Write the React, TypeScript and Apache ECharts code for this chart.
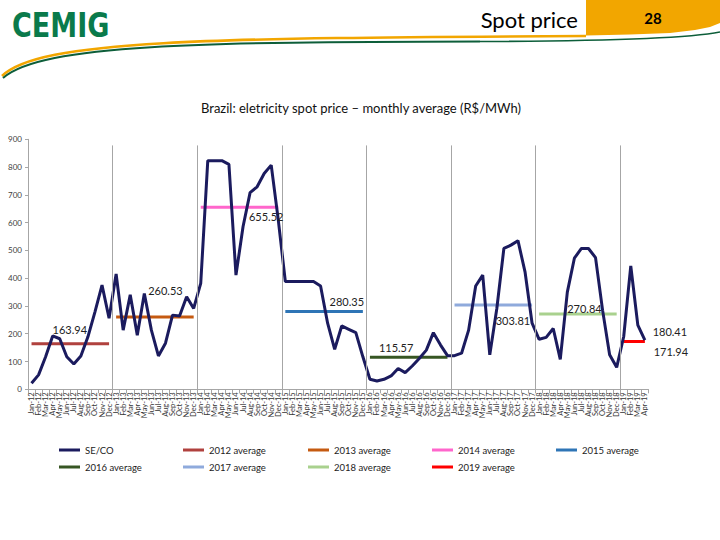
import React, { useEffect, useRef } from 'react';
import * as echarts from 'echarts';

const monthNames = ['Jan', 'Feb', 'Mar', 'Apr', 'May', 'Jun', 'Jul', 'Aug', 'Sep', 'Oct', 'Nov', 'Dec'];
const yearSuffixes = ['12', '13', '14', '15', '16', '17', '18', '19'];
const monthsPerYear = [12, 12, 12, 12, 12, 12, 12, 4];

const spot2012 = [22, 52, 117, 192, 182, 117, 91, 120, 189, 279, 375, 256];
const spot2013 = [415, 213, 340, 195, 345, 213, 120, 166, 267, 264, 333, 291];
const spot2014 = [381, 823, 823, 823, 810, 411, 585, 708, 729, 777, 807, 610];
const spot2015 = [388, 388, 388, 388, 388, 372, 238, 144, 228, 216, 204, 117];
const spot2016 = [36, 30, 36, 48, 75, 60, 84, 111, 141, 204, 160, 121];
const spot2017 = [121, 130, 213, 372, 411, 124, 291, 507, 519, 535, 423, 238];
const spot2018 = [180, 187, 219, 108, 350, 472, 507, 507, 474, 285, 124, 79];
const spot2019 = [190, 444, 231, 177];

const averageNames = ['2012 average', '2013 average', '2014 average', '2015 average', '2016 average', '2017 average', '2018 average', '2019 average'];
const averageValues = [163.94, 260.53, 655.52, 280.35, 115.57, 303.81, 270.84, 171.94];
const averageLabels = ['163.94', '260.53', '655.52', '280.35', '115.57', '303.81', '270.84', '171.94'];
const extraLabel = '180.41';

const averageColors = ['#b0413e', '#c55a11', '#ff66cc', '#2e75b6', '#375623', '#8faadc', '#a9d18e', '#ff0000'];
// label anchors: [category index, dx, dy] (style/position only)
const averageLabelAnchors: [number, number, number][] = [
  [5, 3, -14], [19, 0, -26], [33, 2, 9], [45, -2, -10], [52, -2, -10], [68, 2, 16], [78, 3, -6], [87, 26, 10],
];
const extraLabelAnchor: [number, number, number] = [87, 25, -10];

const categories: string[] = [];
yearSuffixes.forEach((y, yi) => {
  for (let m = 0; m < monthsPerYear[yi]; m++) categories.push(`${monthNames[m]}-${y}`);
});
const spotValues = [...spot2012, ...spot2013, ...spot2014, ...spot2015, ...spot2016, ...spot2017, ...spot2018, ...spot2019];

const FONT = 'Lato, "Open Sans", sans-serif';
const legendCols = [59, 183, 308, 432, 556];
const legendRows = [445, 462];

export default function App() {
  const ref = useRef<HTMLDivElement>(null);
  useEffect(() => {
    if (!ref.current) return;
    const chart = echarts.init(ref.current, undefined, { renderer: 'svg' });

    const yearStart: number[] = [];
    let acc = 0;
    monthsPerYear.forEach((n) => { yearStart.push(acc); acc += n; });
    const total = acc;

    const avgSeries = averageNames.map((name, i) => {
      const data = categories.map((_, ci) =>
        ci >= yearStart[i] && ci < yearStart[i] + monthsPerYear[i] ? averageValues[i] : null
      );
      return {
        name,
        type: 'line',
        data,
        showSymbol: false,
        symbol: 'none',
        lineStyle: { color: averageColors[i], width: 3 },
        itemStyle: { color: averageColors[i] },
        z: 3,
      };
    });

    const legendNames = ['SE/CO', ...averageNames];
    const legends = legendNames.map((name, i) => ({
      left: legendCols[i % 5],
      top: legendRows[Math.floor(i / 5)],
      data: [name],
      itemWidth: 21,
      itemHeight: 3,
      icon: 'rect',
      padding: 0,
      textStyle: { fontSize: 9.5, color: '#222', fontFamily: FONT },
    }));

    const separatorData = yearStart.slice(1).map((s) => [
      { coord: [s, 878] },
      { coord: [s, 0] },
    ]);

    const option: any = {
      animation: false,
      title: {
        text: 'Brazil: eletricity spot price \u2013 monthly average (R$/MWh)',
        left: 356,
        top: 96,
        textAlign: 'center',
        textStyle: { fontSize: 13, fontWeight: 'normal', color: '#111', fontFamily: FONT },
      },
      grid: { left: 28, right: 71.6, top: 139.3, bottom: 150.7, containLabel: false },
      legend: legends,
      xAxis: [
        {
          type: 'category',
          data: categories,
          boundaryGap: true,
          axisLine: { lineStyle: { color: '#a6a6a6' } },
          axisTick: { show: true, length: 4, lineStyle: { color: '#a6a6a6' } },
          axisLabel: { interval: 0, rotate: 90, fontSize: 7.5, margin: 3, color: '#333', fontFamily: FONT },
          splitLine: { show: false },
        },
        { type: 'value', min: 0, max: total, show: false },
      ],
      yAxis: {
        type: 'value',
        min: 0,
        max: 900,
        interval: 100,
        axisLine: { show: true, lineStyle: { color: '#a6a6a6' } },
        axisTick: { show: true, length: 3, lineStyle: { color: '#a6a6a6' } },
        axisLabel: { fontSize: 8, color: '#404040', margin: 6, fontFamily: FONT },
        splitLine: { show: false },
      },
      series: [
        {
          name: 'separators',
          type: 'line',
          xAxisIndex: 1,
          data: [],
          silent: true,
          markLine: {
            silent: true,
            symbol: 'none',
            label: { show: false },
            lineStyle: { color: '#a6a6a6', width: 1, type: 'solid' },
            data: separatorData,
          },
          z: 1,
        },
        {
          name: 'SE/CO',
          type: 'line',
          data: spotValues,
          showSymbol: false,
          symbol: 'none',
          lineStyle: { color: '#1b1b5e', width: 3 },
          itemStyle: { color: '#1b1b5e' },
          z: 4,
        },
        ...avgSeries,
      ],
    };
    chart.setOption(option);

    const header: any[] = [
      {
        type: 'polygon',
        shape: { points: [[586, 0], [720, 0], [720, 23], [710, 27], [695, 30], [670, 33], [630, 34.5], [586, 35.5]] },
        style: { fill: '#f2a600' },
      },
      {
        type: 'text', x: 578, y: 19,
        style: { text: 'Spot price', fontSize: 22, fontFamily: FONT, fill: '#000', align: 'right', verticalAlign: 'middle' },
      },
      {
        type: 'text', x: 653, y: 18,
        style: { text: '28', fontSize: 15, fontWeight: 'bold', fontFamily: FONT, fill: '#000', align: 'center', verticalAlign: 'middle' },
      },
      {
        type: 'text', x: 12, y: 26, scaleX: 0.82,
        style: { text: 'CEMIG', fontSize: 33, fontWeight: 900, fontFamily: '"DejaVu Sans", sans-serif', fill: '#0a7a4b', verticalAlign: 'middle' },
      },
      {
        type: 'bezierCurve',
        shape: { x1: 2, y1: 76, cpx1: 40, cpy1: 40, cpx2: 200, cpy2: 38, x2: 586, y2: 36 },
        style: { stroke: '#f2a600', lineWidth: 2.6, fill: 'none' },
      },
      {
        type: 'bezierCurve',
        shape: { x1: 3, y1: 78, cpx1: 42, cpy1: 44, cpx2: 200, cpy2: 42, x2: 480, y2: 41.5 },
        style: { stroke: '#0d5e3a', lineWidth: 2, fill: 'none' },
      },
      {
        type: 'bezierCurve',
        shape: { x1: 480, y1: 41.5, cpx1: 620, cpy1: 41, cpx2: 690, cpy2: 38, x2: 720, y2: 32 },
        style: { stroke: '#0d5e3a', lineWidth: 1.6, fill: 'none' },
      },
    ];

    const labels: any[] = averageLabels.map((t, i) => {
      const [ci, dx, dy] = averageLabelAnchors[i];
      const p = chart.convertToPixel({ xAxisIndex: 0, yAxisIndex: 0 }, [ci, averageValues[i]]) as number[];
      return {
        type: 'text', x: p[0] + dx, y: p[1] + dy, z: 10,
        style: { text: t, fontSize: 11, fontFamily: FONT, fill: '#222', align: 'center', verticalAlign: 'middle' },
      };
    });
    {
      const [ci, dx, dy] = extraLabelAnchor;
      const p = chart.convertToPixel({ xAxisIndex: 0, yAxisIndex: 0 }, [ci, averageValues[7]]) as number[];
      labels.push({
        type: 'text', x: p[0] + dx, y: p[1] + dy, z: 10,
        style: { text: extraLabel, fontSize: 11, fontFamily: FONT, fill: '#222', align: 'center', verticalAlign: 'middle' },
      });
    }

    chart.setOption({ graphic: [...header, ...labels] });

    return () => chart.dispose();
  }, []);

  return <div ref={ref} style={{ position: 'fixed', left: 0, top: 0, width: 720, height: 540, background: '#fff' }} />;
}
